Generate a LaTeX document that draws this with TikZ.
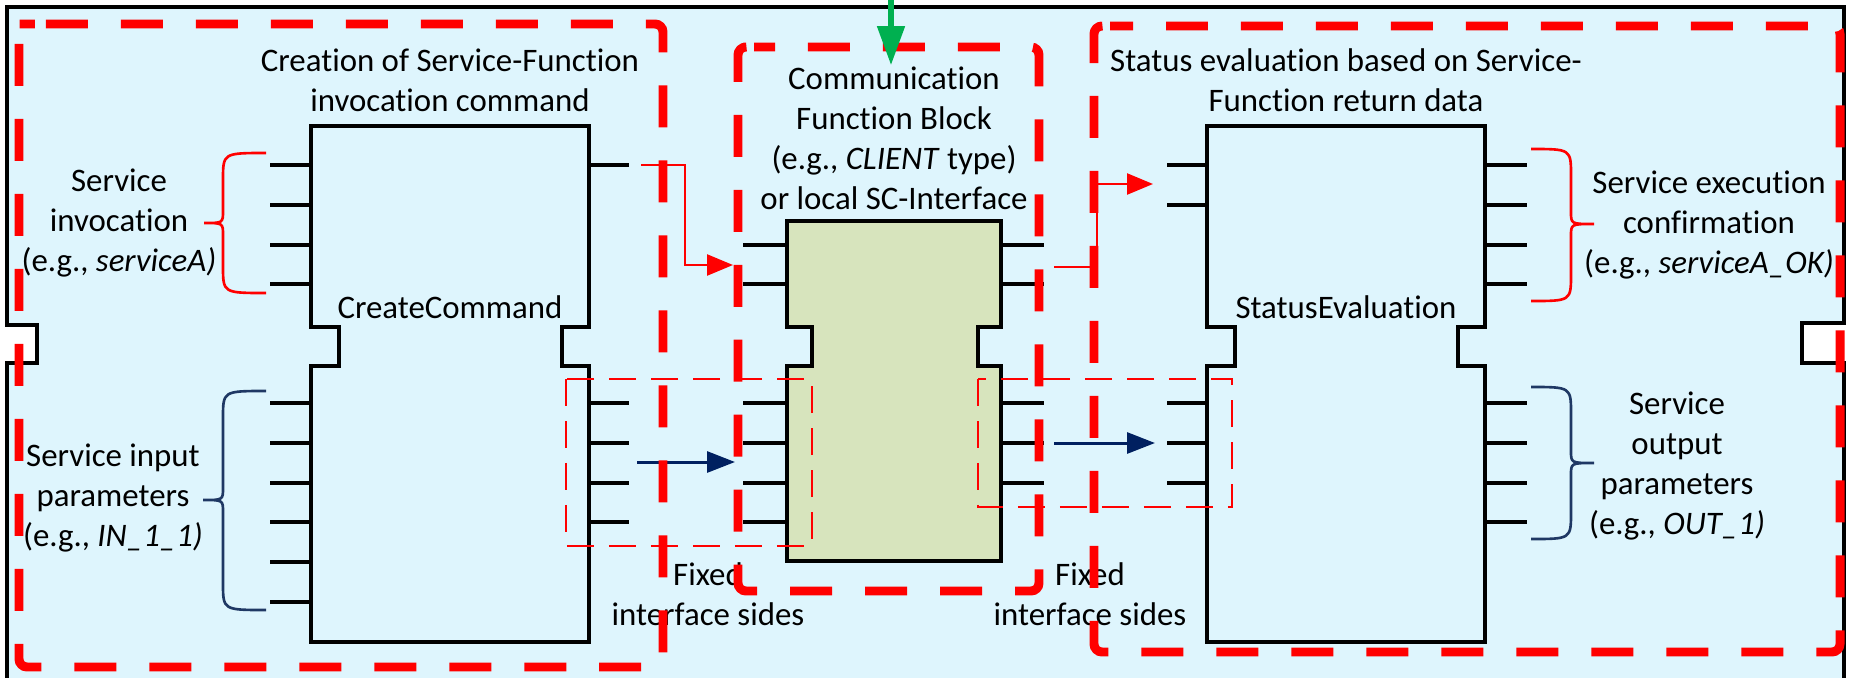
\documentclass[tikz,border=0pt]{standalone}
\usepackage{fontspec}
\setmainfont{Carlito}[Ligatures=NoCommon]
\usetikzlibrary{arrows.meta}
\definecolor{bgblue}{HTML}{DEF5FD}
\definecolor{fbgreen}{HTML}{D7E4BD}
\definecolor{navy}{HTML}{002060}
\definecolor{bracenavy}{HTML}{1F3864}
\definecolor{arrgreen}{HTML}{00B050}
\definecolor{pptred}{HTML}{FF0000}
\tikzset{
  fbshape/.style={draw=black, line width=2pt, line join=miter},
  pin/.style={draw=black, line width=2pt},
  lbl/.style={inner sep=0pt, align=center, font=\fontsize{18.7pt}{22.7pt}\selectfont},
  bigdash/.style={draw=pptred, line width=5.1pt, rounded corners=0.16cm, dash pattern=on 0.84cm off 0.66cm},
  smalldash/.style={draw=pptred, line width=1.5pt, dash pattern=on 0.54cm off 0.3cm},
  redarrow/.style={draw=pptred, line width=1.4pt, -{Triangle[length=0.52cm,width=0.42cm]}},
  bluearrow/.style={draw=navy, line width=1.7pt, -{Triangle[length=0.56cm,width=0.42cm]}},
  greenarrow/.style={draw=arrgreen, line width=2.9pt, -{Triangle[length=0.78cm,width=0.54cm]}},
  redbrace/.style={draw=pptred, line width=1.5pt},
  bluebrace/.style={draw=bracenavy, line width=1.5pt}
}
\begin{document}
\begin{tikzpicture}[x=0.02cm, y=-0.02cm]
\useasboundingbox (0,0) rectangle (1853,677);
\clip (0,0) rectangle (1853,677);
\fill[white] (0,0) rectangle (1853,677);
% outer frame
\draw[fill=bgblue, line width=2pt] (7,7) -- (1844,7) -- (1844,323) -- (1802,323) -- (1802,363) -- (1844,363) -- (1844,700) -- (7,700) -- (7,363) -- (37,363) -- (37,325) -- (7,325) -- cycle;

% CreateCommand block
\draw[fbshape] (311,126) -- (589,126) -- (589,327) -- (562,327) -- (562,366) -- (589,366) -- (589,642) -- (311,642) -- (311,366) -- (339,366) -- (339,327) -- (311,327) -- cycle;
\foreach \y in {165,205,245,284,403,443,483,522,562,602} \draw[pin] (270,\y) -- (311,\y);
\foreach \y in {165,403,443,483,522} \draw[pin] (589,\y) -- (629,\y);
\node[lbl] (cc) at (450,307) {CreateCommand};

% Communication FB
\draw[fbshape, fill=fbgreen] (787,221) -- (1001,221) -- (1001,327) -- (978,327) -- (978,366) -- (1001,366) -- (1001,561) -- (787,561) -- (787,366) -- (812,366) -- (812,327) -- (787,327) -- cycle;
\foreach \y in {245,284,403,443,483,522} \draw[pin] (743,\y) -- (787,\y);
\foreach \y in {245,284,403,443,483} \draw[pin] (1001,\y) -- (1044,\y);

% StatusEvaluation block
\draw[fbshape] (1207,126) -- (1485,126) -- (1485,327) -- (1458,327) -- (1458,366) -- (1485,366) -- (1485,642) -- (1207,642) -- (1207,366) -- (1235,366) -- (1235,327) -- (1207,327) -- cycle;
\foreach \y in {165,205,403,443,483} \draw[pin] (1167,\y) -- (1207,\y);
\foreach \y in {165,205,245,284,403,443,483,522} \draw[pin] (1485,\y) -- (1527,\y);
\node[lbl] (se) at (1346,307) {StatusEvaluation};

% braces
\draw[redbrace] (266,153) .. controls (223,153) .. (223,180) -- (223,211) .. controls (223,223) .. (204,223) .. controls (223,223) .. (223,235) -- (223,266) .. controls (223,293) .. (266,293);
\draw[bluebrace] (266,391) .. controls (223,391) .. (223,418) -- (223,488) .. controls (223,500) .. (203,500) .. controls (223,500) .. (223,512) -- (223,583) .. controls (223,610) .. (266,610);
\draw[redbrace] (1531,149) .. controls (1571,149) .. (1571,176) -- (1571,212) .. controls (1571,224) .. (1594,224) .. controls (1571,224) .. (1571,236) -- (1571,274) .. controls (1571,301) .. (1531,301);
\draw[bluebrace] (1531,387) .. controls (1571,387) .. (1571,414) -- (1571,451) .. controls (1571,463) .. (1594,463) .. controls (1571,463) .. (1571,475) -- (1571,512) .. controls (1571,539) .. (1531,539);

% labels
\node[lbl] (t1) at (450,80) {Creation of Service-Function\\invocation command};
\node[lbl] (t2) at (119,223) {Service\\invocation\\(e.g., \textit{serviceA)}};
\node[lbl] (t3) at (113,498) {Service input\\parameters\\(e.g., \textit{IN\_1\_1)}};
\node[lbl] (t4) at (894,138) {Communication\\Function Block\\(e.g., \textit{CLIENT} type)\\or local SC-Interface};
\node[lbl] (t5) at (1346,80) {Status evaluation based on Service-\\Function return data};
\node[lbl] (t6) at (1709,225) {Service execution\\confirmation\\(e.g., \textit{serviceA\_OK)}};
\node[lbl] (t7) at (1677,466) {Service\\output\\parameters\\(e.g., \textit{OUT\_1)}};
\node[lbl] (t8) at (708,594) {Fixed\\interface sides};
\node[lbl] (t9) at (1090,594) {Fixed\\interface sides};

% connectors
\coordinate (ccout) at (641,165);
\coordinate (fbin) at (733,265);
\coordinate (fbout) at (1054,267);
\coordinate (sein) at (1153,184);
\draw[redarrow] (ccout) -- ++(44,0) |- (fbin);
\draw[redarrow] (fbout) -- ++(43,0) |- (sein);
\coordinate (ccdata) at (637,462);
\coordinate (fbdata) at (735,462);
\coordinate (fbdataout) at (1054,443);
\coordinate (sedata) at (1155,443);
\draw[bluearrow] (ccdata) -- (fbdata);
\draw[bluearrow] (fbdataout) -- (sedata);

% thin dashed boxes
\draw[smalldash] (566,379) rectangle (812,546);
\draw[smalldash] (978,379) rectangle (1232,507);

% thick dashed boxes
\draw[bigdash, dash phase=1.28cm] (27,24) -- (663,24) -- (663,667) -- (19,667) -- (19,24) -- cycle;
\draw[bigdash, dash phase=0.42cm] (746,47) -- (1039,47) -- (1039,591) -- (738,591) -- (738,47) -- cycle;
\draw[bigdash, dash phase=0.38cm] (1102,26) -- (1840,26) -- (1840,652) -- (1094,652) -- (1094,26) -- cycle;

% green arrow
\coordinate (gtop) at (891,-10);
\coordinate (gtip) at (891,65);
\draw[greenarrow] (gtop) -- (gtip);
\end{tikzpicture}
\end{document}
